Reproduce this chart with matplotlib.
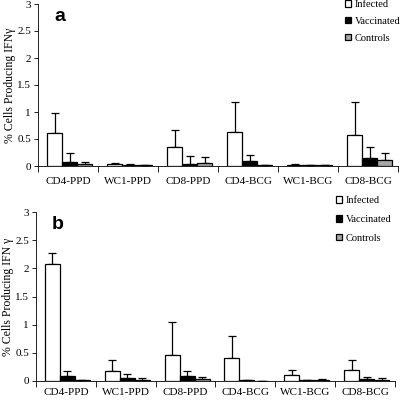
import numpy as np
from matplotlib import pyplot as plt

categories = ['CD4-PPD', 'WC1-PPD', 'CD8-PPD', 'CD4-BCG', 'WC1-BCG', 'CD8-BCG']
groups = ['Infected', 'Vaccinated', 'Controls']

# panel a: means and upper error lengths
a_inf = [0.62, 0.03, 0.35, 0.63, 0.02, 0.58]
a_inf_err = [0.36, 0.03, 0.31, 0.56, 0.01, 0.61]
a_vac = [0.08, 0.02, 0.04, 0.10, 0.01, 0.15]
a_vac_err = [0.16, 0.01, 0.14, 0.11, 0.0, 0.21]
a_ctl = [0.04, 0.02, 0.06, 0.02, 0.01, 0.12]
a_ctl_err = [0.04, 0.0, 0.11, 0.0, 0.0, 0.13]

# panel b
b_inf = [2.07, 0.18, 0.47, 0.40, 0.11, 0.20]
b_inf_err = [0.20, 0.20, 0.57, 0.39, 0.08, 0.18]
b_vac = [0.09, 0.06, 0.08, 0.01, 0.01, 0.04]
b_vac_err = [0.08, 0.07, 0.09, 0.0, 0.0, 0.03]
b_ctl = [0.01, 0.02, 0.03, 0.005, 0.02, 0.02]
b_ctl_err = [0.0, 0.04, 0.04, 0.0, 0.02, 0.04]

colors = ['white', 'black', '#a6a6a6']
serif = ['Liberation Serif', 'DejaVu Serif']

fig = plt.figure(figsize=(4, 4), dpi=100)
ax1 = fig.add_axes([0.095, 0.585, 0.9, 0.405])
ax2 = fig.add_axes([0.09, 0.0475, 0.8975, 0.4225])


def draw(ax, vals, errs, letter, ylab, xpad, leg_anchor, leg_space):
    x = np.arange(len(categories))
    w = 0.25
    for k in range(3):
        ax.bar(x - w + k * w + 0.025, vals[k], w, color=colors[k], edgecolor='black',
               linewidth=0.9, label=groups[k], zorder=2)
        ax.errorbar(x - w + k * w + 0.025, vals[k], yerr=[np.zeros(6), errs[k]],
                    fmt='none', ecolor='black', elinewidth=0.9, capsize=3,
                    capthick=0.9, zorder=1)
    ax.set_xlim(-0.5, 5.5)
    ax.set_ylim(0, 3)
    ax.set_yticks([0, 0.5, 1, 1.5, 2, 2.5, 3])
    ax.set_yticklabels(['0', '0.5', '1', '1.5', '2', '2.5', '3'], family=serif, fontsize=8)
    ax.set_xticks(x)
    ax.set_xticklabels(categories, family=serif, fontsize=8)
    ax.set_xticks(np.arange(-0.5, 6, 1), minor=True)
    ax.tick_params(axis='x', which='major', length=0, pad=xpad)
    ax.tick_params(axis='x', which='minor', length=4, width=0.6)
    ax.tick_params(axis='y', length=3, width=0.6, pad=2)
    for s in ['top', 'right']:
        ax.spines[s].set_visible(False)
    for s in ['left', 'bottom']:
        ax.spines[s].set_linewidth(0.6)
    ax.set_ylabel(ylab, family=serif, fontsize=8.5, labelpad=1)
    ax.text(0.045, 0.975, letter, transform=ax.transAxes, fontsize=14,
            fontweight='bold', family='Liberation Sans', va='top')
    ax.legend(loc='upper left', bbox_to_anchor=leg_anchor,
              bbox_transform=fig.transFigure, frameon=False, borderpad=0,
              borderaxespad=0, prop={'family': serif, 'size': 7.5},
              handlelength=0.6, handleheight=0.6, handletextpad=0.35,
              labelspacing=leg_space)


draw(ax1, [a_inf, a_vac, a_ctl], [a_inf_err, a_vac_err, a_ctl_err],
     'a', '% Cells Producing IFN\u03b3', 8, (0.862, 1.0), 0.75)
draw(ax2, [b_inf, b_vac, b_ctl], [b_inf_err, b_vac_err, b_ctl_err],
     'b', '% Cells Producing IFN \u03b3', 5, (0.84, 0.51), 0.95)

fig.savefig('out.png', dpi=100)
